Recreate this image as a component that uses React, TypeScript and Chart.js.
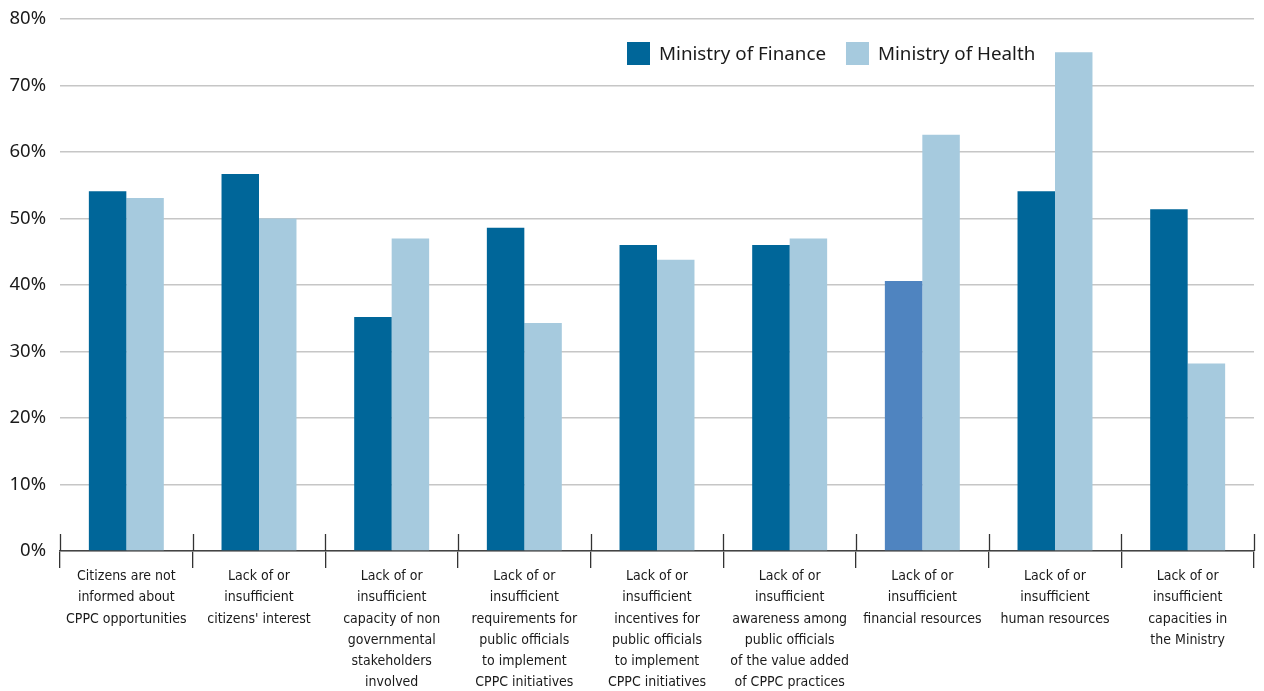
import React, { useEffect, useRef } from "react";
import { Chart, registerables } from "chart.js";

Chart.register(...registerables);

const categories: string[][] = [
  ["Citizens are not", "informed about", "CPPC opportunities"],
  ["Lack of or", "insufficient", "citizens' interest"],
  ["Lack of or", "insufficient", "capacity of non", "governmental", "stakeholders", "involved"],
  ["Lack of or", "insufficient", "requirements for", "public officials", "to implement", "CPPC initiatives"],
  ["Lack of or", "insufficient", "incentives for", "public officials", "to implement", "CPPC initiatives"],
  ["Lack of or", "insufficient", "awareness among", "public officials", "of the value added", "of CPPC practices"],
  ["Lack of or", "insufficient", "financial resources"],
  ["Lack of or", "insufficient", "human resources"],
  ["Lack of or", "insufficient", "capacities in", "the Ministry"],
];

const seriesNames = ["Ministry of Finance", "Ministry of Health"];
const financeValues = [54.1, 56.7, 35.2, 48.6, 46.0, 46.0, 40.6, 54.1, 51.4];
const healthValues = [53.1, 50.0, 47.0, 34.3, 43.8, 47.0, 62.6, 75.0, 28.2];

const yTicks = [0, 10, 20, 30, 40, 50, 60, 70, 80];

const FIN = "#006699";
const FIN_ALT = "#4f84c0";
const HEALTH = "#a6cade";
const financeColors = financeValues.map((_, i) => (i === 6 ? FIN_ALT : FIN));

const tickMarksAbove = {
  id: "tickMarksAbove",
  afterDraw(chart: any) {
    const xs = chart.scales.x;
    const ctx = chart.ctx;
    const n = categories.length;
    const w = (xs.right - xs.left) / n;
    const bottom = chart.chartArea.bottom;
    ctx.save();
    ctx.strokeStyle = "#333333";
    ctx.lineWidth = 1.3;
    for (let i = 0; i <= n; i++) {
      const x = Math.round(xs.left + i * w) + 0.5;
      ctx.beginPath();
      ctx.moveTo(x, bottom - 17);
      ctx.lineTo(x, bottom);
      ctx.stroke();
    }
    ctx.restore();
  },
};

const customLegend = {
  id: "customLegend",
  afterDraw(chart: any) {
    const ctx = chart.ctx;
    ctx.save();
    ctx.font = '18.8px "Noto Sans", sans-serif';
    ctx.textBaseline = "middle";
    let x = 627;
    const y = 53.5;
    const box = 23;
    const colors = [FIN, HEALTH];
    seriesNames.forEach((name, i) => {
      ctx.fillStyle = colors[i];
      ctx.fillRect(x, y - box / 2, box, box);
      ctx.fillStyle = "#1a1a1a";
      ctx.fillText(name, x + box + 9, y + 1);
      x += box + 9 + ctx.measureText(name).width + 20;
    });
    ctx.restore();
  },
};

export default function App() {
  const ref = useRef<HTMLCanvasElement | null>(null);
  useEffect(() => {
    if (!ref.current) return;
    const chart = new Chart(ref.current, {
      type: "bar",
      data: {
        labels: categories,
        datasets: [
          {
            label: seriesNames[0],
            data: financeValues,
            backgroundColor: financeColors,
            borderWidth: 0,
            categoryPercentage: 0.565,
            barPercentage: 1,
          },
          {
            label: seriesNames[1],
            data: healthValues,
            backgroundColor: HEALTH,
            borderWidth: 0,
            categoryPercentage: 0.565,
            barPercentage: 1,
          },
        ],
      },
      options: {
        animation: false,
        responsive: true,
        maintainAspectRatio: false,
        layout: { padding: { top: 19, right: 10, left: 0, bottom: 0 } },
        plugins: {
          legend: { display: false },
          tooltip: { enabled: false },
        },
        scales: {
          x: {
            offset: true,
            grid: {
              offset: true,
              drawOnChartArea: false,
              drawTicks: true,
              tickLength: 17,
              color: "#333333",
              lineWidth: 1.3,
            },
            border: { display: true, color: "#444444", width: 1.5 },
            ticks: {
              color: "#1a1a1a",
              padding: -2,
              maxRotation: 0,
              autoSkip: false,
              font: { family: '"DejaVu Sans Condensed", "Liberation Sans Narrow", sans-serif', size: 14, lineHeight: 1.515 },
            },
            afterFit(scale: any) {
              scale.height = 140;
              scale.paddingLeft = 0;
              scale.paddingRight = 0;
            },
          },
          y: {
            min: 0,
            max: 80,
            afterBuildTicks(scale: any) {
              scale.ticks = yTicks.map((v) => ({ value: v }));
            },
            grid: {
              color: "#c6c6c6",
              lineWidth: 1.5,
              drawTicks: false,
            },
            border: { display: false },
            ticks: {
              color: "#1a1a1a",
              padding: 14,
              font: { family: '"Noto Sans", sans-serif', size: 18.5 },
              callback: (v: any) => v + "%",
            },
            afterFit(scale: any) {
              scale.width = 60;
              scale.paddingTop = 0;
              scale.paddingBottom = 0;
            },
          },
        },
      },
      plugins: [tickMarksAbove, customLegend],
    });
    return () => chart.destroy();
  }, []);
  return (
    <div style={{ position: "absolute", left: 0, top: 0, width: 1264, height: 691, background: "#fff" }}>
      <canvas ref={ref} />
    </div>
  );
}
